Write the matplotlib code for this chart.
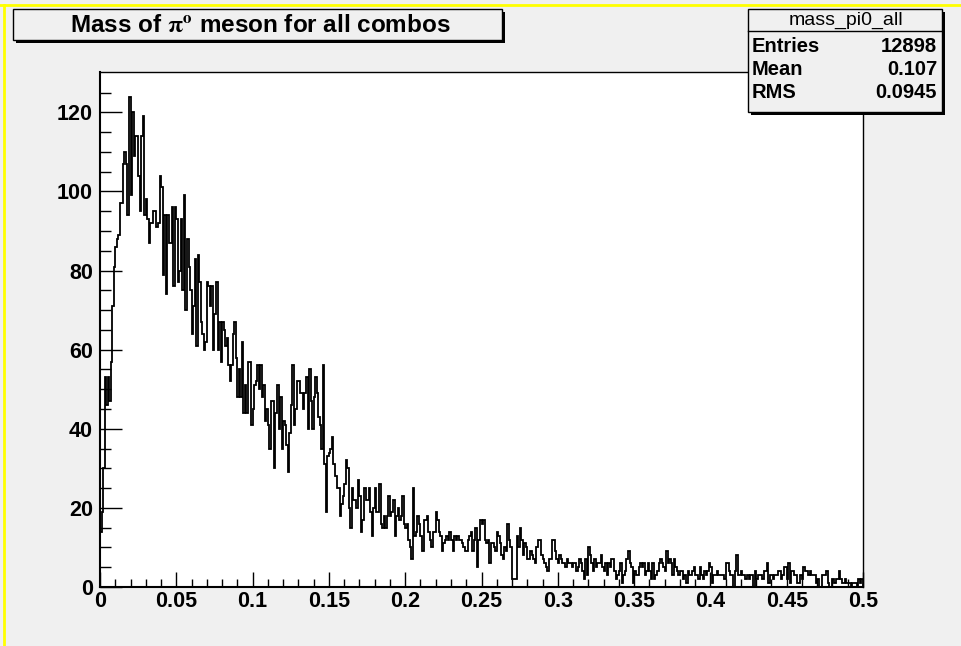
import matplotlib
matplotlib.use("Agg")
import matplotlib.pyplot as plt
import numpy as np
from matplotlib.patches import Rectangle
from matplotlib.lines import Line2D

# bin contents, 500 bins of width 0.001 GeV, split in blocks of 100
counts_000 = [
    14, 19, 30, 53, 46, 53, 47, 57, 71, 81,
    86, 88, 89, 97, 97, 107, 110, 107, 94, 124,
    99, 120, 109, 114, 114, 104, 95, 114, 119, 94,
    98, 93, 87, 92, 92, 95, 95, 91, 92, 104,
    101, 79, 94, 74, 94, 87, 87, 96, 76, 96,
    93, 77, 80, 93, 75, 99, 70, 88, 81, 75,
    64, 71, 83, 61, 84, 77, 67, 64, 60, 62,
    77, 76, 71, 76, 60, 69, 77, 60, 67, 57,
    67, 65, 61, 63, 56, 52, 56, 64, 67, 58,
    48, 55, 48, 62, 44, 51, 44, 57, 57, 41,
]
counts_100 = [
    45, 51, 52, 56, 50, 56, 48, 51, 42, 45,
    41, 35, 47, 47, 30, 44, 51, 40, 48, 35,
    42, 41, 36, 29, 39, 46, 56, 41, 45, 52,
    52, 49, 49, 45, 49, 53, 40, 55, 47, 40,
    48, 53, 49, 43, 41, 35, 56, 31, 19, 33,
    34, 35, 38, 31, 28, 25, 25, 18, 21, 23,
    26, 32, 30, 20, 15, 25, 22, 22, 20, 27,
    23, 14, 17, 25, 22, 22, 25, 19, 13, 20,
    25, 19, 19, 26, 16, 15, 18, 15, 18, 23,
    18, 19, 22, 13, 18, 20, 17, 18, 23, 16,
]
counts_200 = [
    15, 16, 12, 10, 7, 25, 13, 14, 18, 16,
    13, 9, 17, 17, 18, 14, 12, 10, 14, 14,
    19, 17, 14, 13, 9, 11, 12, 13, 12, 14,
    12, 9, 13, 12, 13, 12, 12, 11, 10, 9,
    9, 12, 13, 14, 9, 12, 15, 5, 12, 17,
    16, 17, 12, 11, 12, 6, 11, 11, 10, 9,
    14, 13, 11, 8, 7, 10, 9, 16, 12, 10,
    2, 2, 2, 13, 10, 15, 12, 8, 11, 10,
    7, 7, 9, 8, 7, 6, 10, 12, 12, 8,
    7, 6, 5, 4, 7, 7, 12, 12, 9, 7,
]
counts_300 = [
    6, 8, 7, 6, 6, 5, 7, 6, 6, 5,
    6, 6, 4, 5, 7, 6, 4, 2, 7, 3,
    10, 8, 6, 4, 7, 5, 6, 6, 8, 5,
    4, 6, 3, 6, 5, 7, 7, 4, 2, 3,
    4, 6, 1, 3, 4, 7, 9, 6, 5, 1,
    4, 3, 3, 5, 6, 5, 6, 3, 4, 6,
    4, 2, 6, 2, 3, 4, 6, 7, 6, 5,
    4, 9, 6, 7, 6, 3, 7, 5, 4, 3,
    4, 4, 2, 3, 1, 4, 3, 3, 4, 5,
    3, 3, 2, 5, 3, 2, 4, 3, 4, 6,
]
counts_400 = [
    5, 1, 3, 3, 4, 3, 3, 3, 3, 2,
    6, 6, 4, 3, 3, 0, 4, 8, 3, 3,
    4, 3, 3, 2, 3, 2, 3, 3, 0, 4,
    2, 3, 3, 3, 2, 4, 4, 6, 1, 3,
    3, 2, 3, 3, 4, 4, 2, 3, 5, 5,
    2, 6, 1, 4, 4, 3, 3, 1, 1, 3,
    2, 5, 4, 4, 3, 4, 3, 3, 3, 1,
    2, 0, 0, 3, 3, 3, 4, 1, 0, 0,
    2, 1, 2, 2, 4, 2, 1, 1, 2, 1,
    1, 1, 0, 1, 1, 1, 0, 2, 1, 2,
]

x_ticks = [0, 0.05, 0.1, 0.15, 0.2, 0.25, 0.3, 0.35, 0.4, 0.45, 0.5]
x_tick_labels = ["0", "0.05", "0.1", "0.15", "0.2", "0.25", "0.3", "0.35", "0.4", "0.45", "0.5"]
y_ticks = [0, 20, 40, 60, 80, 100, 120]

hist_name = "mass_pi0_all"
stats = [("Entries", "12898"), ("Mean", "0.107"), ("RMS", "0.0945")]
title = r"Mass of $\mathrm{\pi}^{\mathbf{o}}$ meson for all combos"

W, H = 961, 646
BG = "#f0f0f0"

plt.rcParams["font.family"] = ["Liberation Sans", "DejaVu Sans"]
plt.rcParams["font.weight"] = "bold"
plt.rcParams["mathtext.fontset"] = "stix"


def fx(x):
    return x / W


def fy(y):
    return 1 - y / H


def pave(fig, x0, y0, x1, y1, shadow=3):
    # box with a dark drop shadow, ROOT style
    fig.add_artist(Rectangle((fx(x0 + shadow), fy(y1 + shadow)), fx(x1 - x0), (y1 - y0) / H,
                             transform=fig.transFigure, facecolor="black", edgecolor="none", zorder=5))
    fig.add_artist(Rectangle((fx(x0), fy(y1)), fx(x1 - x0), (y1 - y0) / H,
                             transform=fig.transFigure, facecolor=BG, edgecolor="black",
                             linewidth=1.0, zorder=6))


counts = np.concatenate([counts_000, counts_100, counts_200, counts_300, counts_400])
edges = np.linspace(0, 0.5, len(counts) + 1)

fig = plt.figure(figsize=(W / 100, H / 100), dpi=100, facecolor=BG)
ax = fig.add_axes([fx(100), fy(587), fx(763), 515 / H])
ax.set_facecolor("white")

ax.stairs(counts, edges, color="black", linewidth=1.3, baseline=0)
ax.set_xlim(0, 0.5)
ax.set_ylim(0, 130.2)

ax.set_xticks(x_ticks)
ax.set_xticklabels(x_tick_labels)
ax.set_xticks(np.arange(0, 0.5001, 0.01), minor=True)
ax.set_yticks(y_ticks)
ax.set_yticks(np.arange(0, 130, 5), minor=True)

ax.tick_params(axis="x", which="major", direction="in", length=11, width=1, labelsize=15.5, pad=3)
ax.tick_params(axis="x", which="minor", direction="in", length=5.5, width=1)
ax.tick_params(axis="y", which="major", direction="in", length=16, width=1, labelsize=15.5, pad=5)
ax.tick_params(axis="y", which="minor", direction="in", length=8, width=1)
for s in ("left", "bottom"):
    ax.spines[s].set_linewidth(1.5)
for s in ("top", "right"):
    ax.spines[s].set_linewidth(1.0)

# title pave
pave(fig, 13, 9, 502, 40)
fig.text(fx(260), fy(25), title, ha="center", va="center", fontsize=17.5, fontweight="bold", zorder=7)

# statistics box
pave(fig, 748, 9, 942, 112)
fig.add_artist(Line2D([fx(748), fx(942)], [fy(31), fy(31)], transform=fig.transFigure,
                      color="black", linewidth=1.0, zorder=7))
fig.text(fx(846), fy(20), hist_name, ha="center", va="center", fontsize=14,
         fontweight="normal", zorder=7)
for i, (name, val) in enumerate(stats):
    yy = fy(47 + 22.5 * i)
    fig.text(fx(752), yy, name, ha="left", va="center", fontsize=14.5, zorder=7)
    fig.text(fx(937), yy, val, ha="right", va="center", fontsize=14.5, zorder=7)

# window border
fig.add_artist(Line2D([0, 1], [fy(5), fy(5)], transform=fig.transFigure, color="#ffff00", linewidth=2))
fig.add_artist(Line2D([fx(4), fx(4)], [0, fy(5)], transform=fig.transFigure, color="#ffff00", linewidth=2))

fig.savefig("out.png", dpi=100, facecolor=BG)
